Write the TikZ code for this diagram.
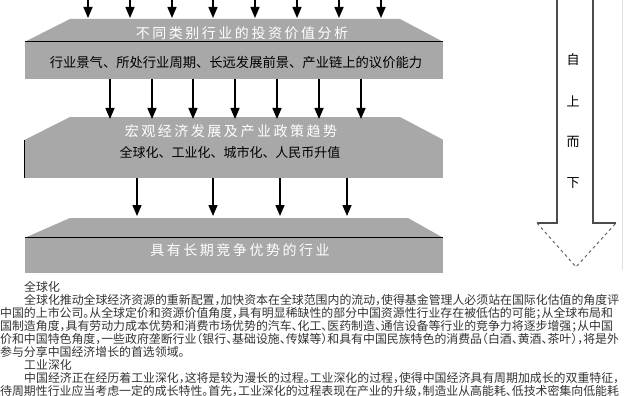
\documentclass[tikz,border=0pt]{standalone}
\usepackage{fontspec}
\newfontfamily\cjk[RawFeature=+halt]{Noto Sans CJK SC}
\newfontfamily\cjkbred[LetterSpace=18]{Noto Sans CJK SC}
\newfontfamily\cjkmid{Noto Sans CJK SC}
\usetikzlibrary{arrows.meta,calc,positioning}
\definecolor{graa}{RGB}{168,168,168}
\tikzset{
    >={Triangle[width=9pt,length=11pt]},
    boks/.style={
           rectangle,
           fill=graa,
           minimum width=418pt,
           inner sep=0pt},
    pil/.style={
           ->,
           line width=1.5pt},
    titel/.style={
           text=white,
           font=\cjkbred\fontsize{14}{14}\selectfont},
    punkter/.style={
           text=black,
           font=\cjkmid\fontsize{13}{13}\selectfont},
    linje/.style={
           anchor=west,
           inner sep=0pt,
           text=black!80,
           font=\cjk\fontsize{11.9}{11.9}\selectfont},
    skaft/.style={
           draw=black!70,
           line width=1.4pt}
}

\begin{document}
\begin{tikzpicture}[x=1pt, y=-1pt]
    \path[use as bounding box, clip] (0,0) rectangle (627,396);

    \node[boks, minimum height=37pt] (b1) at (234,60.5) {};
    \node[boks, minimum height=38pt] (b2) at (234,159) {};
    \node[boks, minimum height=35pt] (b3) at (234,255.5) {};
    \fill[graa] (b1.north west) -- (70,19) -- (400,19) -- (b1.north east) -- cycle;
    \fill[graa] (b2.north west) -- (70,117) -- (400,117) -- (b2.north east) -- cycle;
    \fill[graa] (b3.north west) -- (70,218) -- (408,218) -- (b3.north east) -- cycle;
    \draw[line width=1.2pt] (b1.north west) -- (b1.north east);
    \draw[line width=1.2pt] (b3.north west) -- (b3.north east);
    \draw[line width=1.2pt] (b2.north west) -- (b2.south west);

    \node[titel] (t1) at (242,33) {不同类别行业的投资价值分析};
    \node[punkter, font=\cjkmid\fontsize{13.3}{13.3}\selectfont] (p1) at (236,62) {行业景气、所处行业周期、长远发展前景、产业链上的议价能力};
    \node[titel] (t2) at (231,131) {宏观经济发展及产业政策趋势};
    \node[punkter] (p2) at (230,153) {全球化、工业化、城市化、人民币升值};
    \node[titel] (t3) at (240,250) {具有长期竞争优势的行业};

    \coordinate (topp) at (0,-12);
    \coordinate (k1) at (0,18);
    \coordinate (k2) at (0,119);
    \coordinate (k3) at (0,216);
    \foreach \x in {88,130,172,213,255,297,339,381}
        \draw[pil] (\x,0 |- topp) -- (\x,0 |- k1);
    \foreach \x in {110,152,193,235,277,319,361}
        \draw[pil] (\x,0 |- b1.south) -- (\x,0 |- k2);
    \foreach \x in {137,213,280,347}
        \draw[pil] (\x,0 |- b2.south) -- (\x,0 |- k3);

    \draw[black!12] (622,0) -- (622,270);
    \draw[skaft] (557,-2) -- (557,223) -- (537,223);
    \draw[skaft] (593,-2) -- (593,223) -- (616,223);
    \draw[black!60, dashed, line width=1pt] (537,223) -- (576,267) -- (616,223);
    \foreach \t [count=\i] in {自,上,而,下}
        \node[punkter] (z\i) at (573,19+41*\i) {\t};

    \node[linje] (g1) at (24,287) {全球化};
    \node[linje] (g2) at (24,300) {全球化推动全球经济资源的重新配置，加快资本在全球范围内的流动，使得基金管理人必须站在国际化估值的角度评};
    \node[linje] (g3) at (0,313) {中国的上市公司。从全球定价和资源价值角度，具有明显稀缺性的部分中国资源性行业存在被低估的可能；从全球布局和};
    \node[linje] (g4) at (0,326) {国制造角度，具有劳动力成本优势和消费市场优势的汽车、化工、医药制造、通信设备等行业的竞争力将逐步增强；从中国};
    \node[linje] (g5) at (0,339) {价和中国特色角度，一些政府垄断行业（银行、基础设施、传媒等）和具有中国民族特色的消费品（白酒、黄酒、茶叶），将是外};
    \node[linje] (g6) at (0,352) {参与分享中国经济增长的首选领域。};
    \node[linje] (g7) at (24,365) {工业深化};
    \node[linje] (g8) at (24,378) {中国经济正在经历着工业深化，这将是较为漫长的过程。工业深化的过程，使得中国经济具有周期加成长的双重特征，};
    \node[linje] (g9) at (0,391) {待周期性行业应当考虑一定的成长特性。首先，工业深化的过程表现在产业的升级，制造业从高能耗、低技术密集向低能耗};
\end{tikzpicture}
\end{document}
